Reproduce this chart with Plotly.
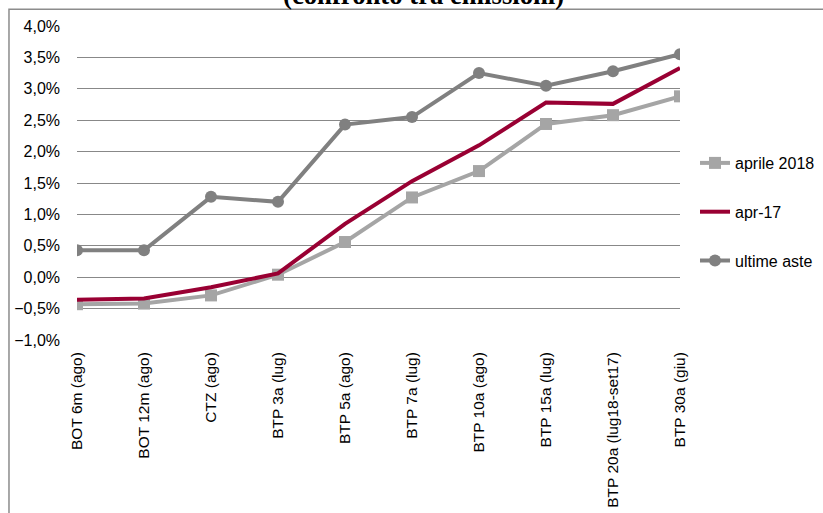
import plotly.graph_objects as go

categories = ["BOT 6m (ago)", "BOT 12m (ago)", "CTZ (ago)", "BTP 3a (lug)", "BTP 5a (ago)",
              "BTP 7a (lug)", "BTP 10a (ago)", "BTP 15a (lug)", "BTP 20a (lug18-set17)", "BTP 30a (giu)"]
aprile_2018 = [-0.43, -0.42, -0.29, 0.04, 0.56, 1.27, 1.69, 2.44, 2.58, 2.88]
apr_17 = [-0.36, -0.34, -0.16, 0.06, 0.85, 1.53, 2.10, 2.78, 2.76, 3.33]
ultime_aste = [0.43, 0.43, 1.28, 1.20, 2.43, 2.55, 3.25, 3.05, 3.28, 3.55]
title_text = "(confronto tra emissioni)"

fig = go.Figure()
fig.add_trace(go.Scatter(x=categories, y=aprile_2018, name="aprile 2018", mode="lines+markers",
                         line=dict(color="#A5A5A5", width=4),
                         marker=dict(symbol="square", size=12, color="#A5A5A5"),
                         legendgroup="a"))
fig.add_trace(go.Scatter(x=categories, y=apr_17, name="apr-17", mode="lines",
                         line=dict(color="#990033", width=4), legendgroup="b"))
fig.add_trace(go.Scatter(x=categories, y=ultime_aste, name="ultime aste", mode="lines+markers",
                         line=dict(color="#808080", width=4),
                         marker=dict(symbol="circle", size=12, color="#808080"),
                         legendgroup="c"))

font_main = "Liberation Sans, Arial, sans-serif"

fig.update_layout(
    width=823, height=513,
    margin=dict(l=77, r=143, t=26, b=173, autoexpand=False),
    paper_bgcolor="white", plot_bgcolor="white",
    separators=",.",
    font=dict(family=font_main, size=16, color="#000000"),
    showlegend=True,
    legend=dict(xref="container", yref="container", x=695 / 823, y=1 - 146 / 513,
                xanchor="left", yanchor="top",
                font=dict(size=16, family=font_main),
                tracegroupgap=25, bgcolor="rgba(0,0,0,0)", itemwidth=30),
    xaxis=dict(type="category", range=[0, 9], showgrid=False, zeroline=False,
               showline=False, ticks="", tickangle=-90, automargin=False,
               tickfont=dict(size=15.5, family=font_main),
               ticklabelstandoff=8),
    xaxis2=dict(overlaying="x", anchor="free", position=0.2, range=[0, 9],
                tick0=0, dtick=1, showgrid=False, zeroline=False,
                showline=True, linecolor="#000000", linewidth=2,
                ticks="outside", ticklen=5, tickcolor="#000000", tickwidth=1.5,
                showticklabels=False, layer="below traces"),
    yaxis=dict(range=[-1, 4], dtick=0.5, tick0=0, tickformat=".1f", ticksuffix="%",
               showgrid=True, gridcolor="#888888", gridwidth=1, automargin=False,
               zeroline=False, showline=False, ticks="",
               tickfont=dict(size=16, family=font_main),
               ticklabelstandoff=16),
)

# outer frame (left and top border)
fig.add_shape(type="rect", xref="paper", yref="paper",
              x0=-0.1128, x1=1.4, y0=-0.7, y1=1.053,
              line=dict(color="#8C8C8C", width=1.5), fillcolor="rgba(0,0,0,0)", layer="below")

fig.add_annotation(text="<b>" + title_text + "</b>", xref="paper", yref="paper",
                   x=(423 - 77) / 603, y=(340.2 - 11) / 314.5, xanchor="center", yanchor="bottom",
                   showarrow=False, borderpad=0,
                   font=dict(family="Liberation Serif, Times New Roman, serif", size=26.7, color="#000000"))

fig.write_html("out.html")
